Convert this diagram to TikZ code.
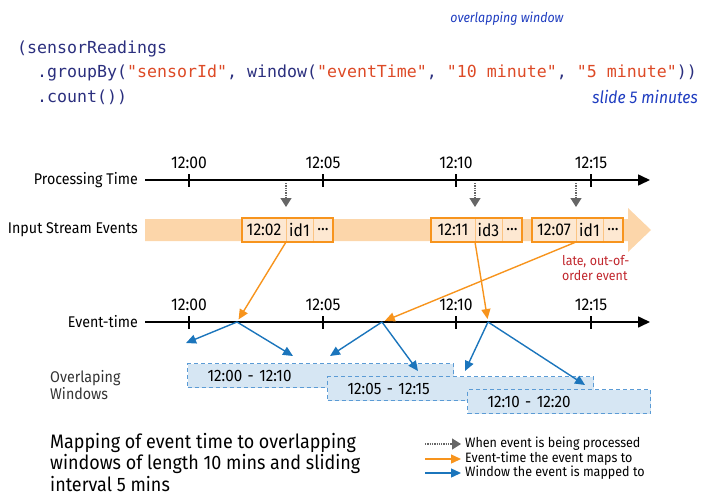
\documentclass[tikz,border=0pt]{standalone}
\usepackage{fontspec}
\setmainfont{Fira Sans}[FakeStretch=0.92]
\setmonofont{DejaVu Sans Mono}
\usetikzlibrary{arrows.meta,positioning,calc}

\definecolor{codenavy}{HTML}{2B2F7E}
\definecolor{codestr}{HTML}{DD4A26}
\definecolor{penblue}{HTML}{1E3CC0}
\definecolor{evorange}{HTML}{F7941D}
\definecolor{bandfill}{HTML}{FCD6AA}
\definecolor{cellfill}{HTML}{FDE8D2}
\definecolor{procgray}{HTML}{666666}
\definecolor{winblue}{HTML}{1B75BC}
\definecolor{winfill}{HTML}{D6E6F3}
\definecolor{windash}{HTML}{5B9BD5}
\definecolor{laterred}{HTML}{C1272D}

\begin{document}
\begin{tikzpicture}[x=1pt, y=-1pt,
  axis/.style    = {line width=1.6pt, -{Triangle[length=12pt,width=11pt]}},
  tickmark/.style = {line width=1.6pt},
  ticklbl/.style = {font=\fontsize{17}{18}\selectfont, inner sep=0pt},
  rowlbl/.style  = {font=\fontsize{15.5}{17}\selectfont, anchor=east,
                    inner sep=0pt},
  cell/.style    = {rectangle, draw=evorange!55, fill=cellfill,
                    line width=0.6pt, minimum height=24pt, inner sep=0pt,
                    outer sep=0pt, font=\fontsize{17}{18}\selectfont},
  timecell/.style = {cell, minimum width=44pt},
  idcell/.style  = {cell, minimum width=27pt},
  dotcell/.style = {cell, minimum width=20pt},
  procarr/.style = {densely dotted, line width=1.3pt, procgray,
                    -{Triangle[length=9pt,width=11pt]}},
  evarr/.style   = {line width=1.4pt, evorange,
                    -{Triangle[length=10pt,width=9pt]}},
  winarr/.style  = {line width=1.4pt, winblue,
                    -{Triangle[length=10pt,width=9pt]}},
  winbox/.style  = {rectangle, draw=windash, fill=winfill, line width=1.1pt,
                    dash pattern=on 4pt off 3pt, minimum height=24pt,
                    inner xsep=20pt, inner ysep=0pt, align=left,
                    anchor=north west, font=\fontsize{16.5}{18}\selectfont},
  code/.style    = {font=\ttfamily\fontsize{16.6}{20}\selectfont,
                    text=codenavy, anchor=west, inner sep=0pt},
  pen/.style     = {font=\itshape, text=penblue, inner sep=0pt},
  legend/.style  = {font=\fontsize{13.6}{15}\selectfont, anchor=west,
                    inner sep=0pt},
]
\useasboundingbox (0,0) rectangle (708,500);

%%═══════════════════════════════════════════════════════════
%% Code snippet + pen notes
%%═══════════════════════════════════════════════════════════

\node[code] (code1) at (17,49) {(sensorReadings};
\node[code] (code2) at (37,73)
  {.groupBy(\textcolor{codestr}{"sensorId"}, window(\textcolor{codestr}{"eventTime"}, \textcolor{codestr}{"10 minute"}, \textcolor{codestr}{"5 minute"}))};
\node[code] (code3) at (37,97) {.count())};

\node[pen, font=\itshape\fontsize{13.5}{15}\selectfont] (note1) at (507,19)
  {overlapping window};
\node[pen, font=\itshape\fontsize{17}{19}\selectfont] (note2) at (645,97)
  {slide 5 minutes};

%%═══════════════════════════════════════════════════════════
%% Processing time axis + input stream
%%═══════════════════════════════════════════════════════════

\coordinate (pstart) at (145,180);
\coordinate (pend)   at (650,180);
\draw[axis] (pstart) -- (pend);
\node[rowlbl] (plbl) at (138,180) {Processing Time};

\foreach \x/\t in {189/12:00, 323/12:05, 456/12:10, 591/12:15}{
  \draw[tickmark] (\x,174) -- (\x,187);
  \node[ticklbl] at (\x,163) {\t};
}

% stream band
\fill[bandfill] (145,219) -- (628,219) -- (628,208) -- (651,230)
  -- (628,252) -- (628,241) -- (145,241) -- cycle;
\node[rowlbl] (slbl) at (138,230) {Input Stream Events};

\node[timecell, anchor=west] (t1) at (242,230) {12:02};
\node[idcell, right=0pt of t1] (i1) {id1};
\node[dotcell, right=0pt of i1] (d1) {...};

\node[timecell, anchor=west] (t2) at (431,230) {12:11};
\node[idcell, right=0pt of t2] (i2) {id3};
\node[dotcell, right=0pt of i2] (d2) {...};

\node[timecell, anchor=west] (t3) at (532,230) {12:07};
\node[idcell, right=0pt of t3] (i3) {id1};
\node[dotcell, right=0pt of i3] (d3) {...};

\foreach \a/\b in {t1/d1, t2/d2, t3/d3}
  \draw[evorange, line width=1.3pt] (\a.north west) rectangle (\b.south east);

\foreach \c in {t1, t2, t3}
  \draw[procarr] ($(\c.north east |- pstart)+(0,3)$) -- ($(\c.north east)+(0,-11)$);

\node[font=\fontsize{13.5}{15.5}\selectfont, text=laterred, align=left,
      anchor=north west, inner sep=0pt] (late) at (562,255)
  {late, out-of-\\order event};

%%═══════════════════════════════════════════════════════════
%% Event-time axis + windows
%%═══════════════════════════════════════════════════════════

\coordinate (estart) at (145,322);
\coordinate (eend)   at (650,322);
\draw[axis] (estart) -- (eend);
\node[rowlbl] (elbl) at (138,322) {Event-time};

\foreach \x/\t in {189/12:00, 323/12:05, 456/12:10, 591/12:15}{
  \draw[tickmark] (\x,316) -- (\x,329);
  \node[ticklbl] at (\x,305) {\t};
}

\coordinate (e1) at (237,322);
\coordinate (e2) at (382,322);
\coordinate (e3) at (488,322);

\draw[evarr, shorten >=3pt] (t1.south east) -- (e1);
\draw[evarr, shorten >=3pt] (t3.south east) -- (e2);
\draw[evarr, shorten >=3pt] (t2.south east) -- (e3);

\node[font=\fontsize{15.5}{17}\selectfont, text=black!80, align=left,
      anchor=west, inner sep=0pt] (wlbl) at (50,385) {Overlaping\\Windows};

\node[winbox, text width=226pt] (w1) at (187,363) {12:00 - 12:10};
\node[winbox, text width=226pt] (w2) at (327,376) {12:05 - 12:15};
\node[winbox, text width=143pt] (w3) at (467,389) {12:10 - 12:20};

\coordinate (e1l) at (186,343);
\coordinate (e1r) at (293,356);
\coordinate (e2l) at (330,356);
\coordinate (e2r) at (418,371);
\coordinate (e3l) at (465,371);
\coordinate (e3r) at (585,385);

\foreach \s/\d in {e1/e1l, e1/e1r, e2/e2l, e2/e2r, e3/e3l, e3/e3r}
  \draw[winarr] (\s) -- (\d);

%%═══════════════════════════════════════════════════════════
%% Caption + legend
%%═══════════════════════════════════════════════════════════

\node[font=\fontsize{19.5}{21.5}\selectfont, align=left, anchor=north west,
      inner sep=0pt] (title) at (50,433)
  {Mapping of event time to overlapping\\
   windows of length 10 mins and sliding\\
   interval 5 mins};

\node[legend] (lg1) at (465,444) {When event is being processed};
\node[legend] (lg2) at (465,459) {Event-time the event maps to};
\node[legend] (lg3) at (465,473) {Window the event is mapped to};

\coordinate (lg1s) at ($(lg1.west)+(-40,0)$);
\coordinate (lg2s) at ($(lg2.west)+(-40,0)$);
\coordinate (lg3s) at ($(lg3.west)+(-40,0)$);
\draw[procarr] (lg1s) -- ($(lg1.west)+(-4,0)$);
\draw[evarr]   (lg2s) -- ($(lg2.west)+(-4,0)$);
\draw[winarr]  (lg3s) -- ($(lg3.west)+(-4,0)$);

\end{tikzpicture}
\end{document}
